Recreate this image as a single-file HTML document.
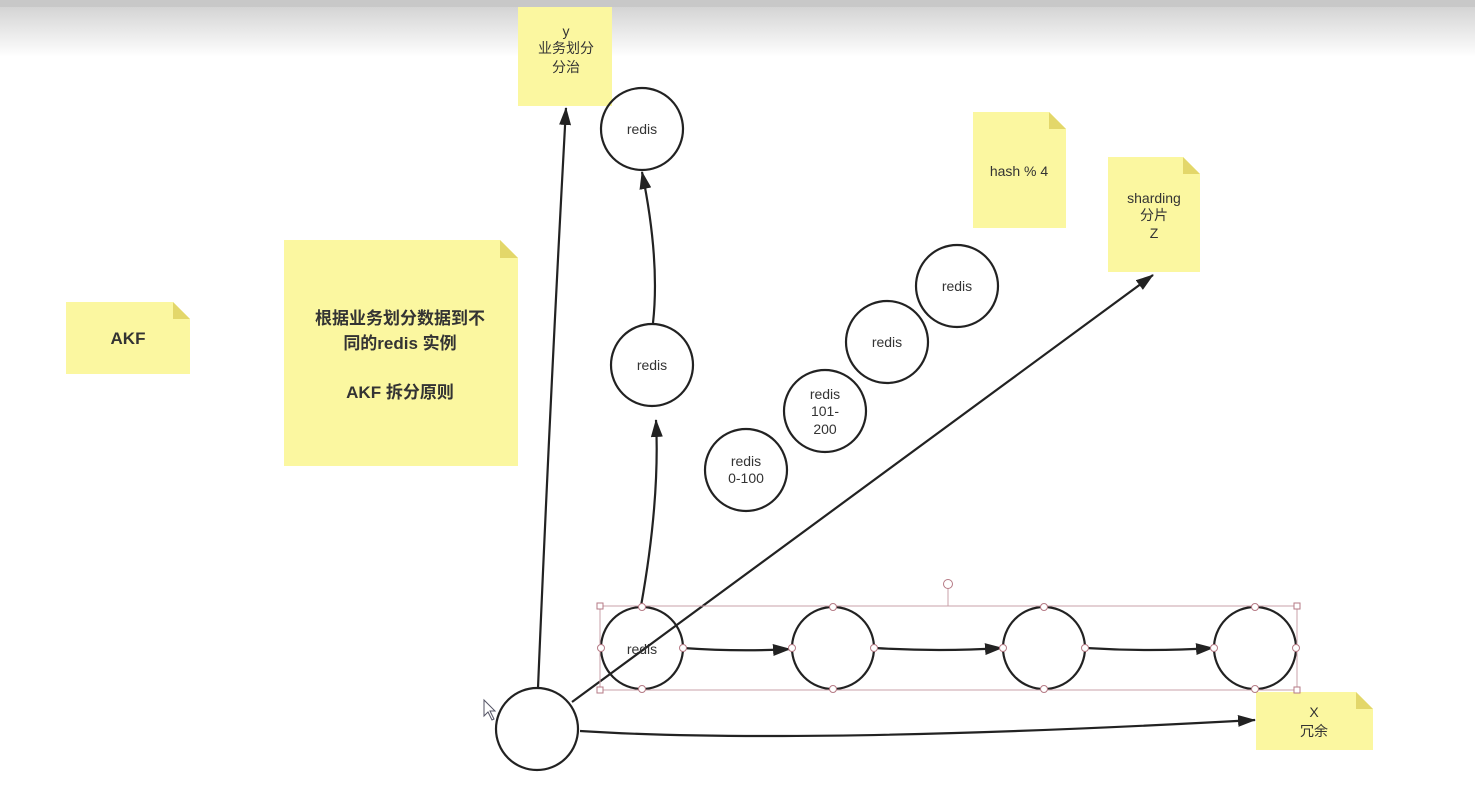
<!DOCTYPE html>
<html><head><meta charset="utf-8"><style>
html,body{margin:0;padding:0;width:1475px;height:793px;overflow:hidden;background:#fff}
svg{display:block}
text{font-family:"Liberation Sans","Noto Sans CJK SC",sans-serif;fill:#333}
</style></head><body>
<svg width="1475" height="793" viewBox="0 0 1475 793" xmlns="http://www.w3.org/2000/svg">
<defs>
<linearGradient id="tg" x1="0" y1="0" x2="0" y2="1"><stop offset="0" stop-color="#d4d4d4"/><stop offset="1" stop-color="#fff"/></linearGradient>
<marker id="ah" markerWidth="18" markerHeight="12" refX="17" refY="6" orient="auto" markerUnits="userSpaceOnUse"><path d="M0,0 L18,6 L0,12 z" fill="#222"/></marker>
</defs>
<rect x="0" y="0" width="1475" height="7" fill="#c8c8c8"/>
<rect x="0" y="7" width="1475" height="50" fill="url(#tg)"/>
<g fill="#fbf7a0">
<rect x="518" y="7" width="94" height="99"/>
<path d="M973,112 H1049 L1066,129 V228 H973 z"/>
<path d="M1108,157 H1183 L1200,174 V272 H1108 z"/>
<path d="M66,302 H173 L190,319 V374 H66 z"/>
<path d="M284,240 H500 L518,258 V466 H284 z"/>
<path d="M1256,692 H1356 L1373,709 V750 H1256 z"/>
</g>
<g fill="#e3d76a">
<path d="M1049,112 L1066,129 H1049 z"/><path d="M1183,157 L1200,174 H1183 z"/><path d="M173,302 L190,319 H173 z"/><path d="M500,240 L518,258 H500 z"/><path d="M1356,692 L1373,709 H1356 z"/>
</g>
<g font-size="14" text-anchor="middle">
<text x="566" y="36">y</text><text x="566" y="53">业务划分</text><text x="566" y="72">分治</text>
<text x="1019" y="176">hash % 4</text>
<text x="1154" y="203">sharding</text><text x="1154" y="220">分片</text><text x="1154" y="238">Z</text>
<text x="1314" y="717">X</text><text x="1314" y="736">冗余</text>
</g>
<g font-size="17" font-weight="bold" text-anchor="middle">
<text x="400" y="324">根据业务划分数据到不</text>
<text x="400" y="349">同的redis 实例</text>
<text x="400" y="398">AKF 拆分原则</text>
<text x="128" y="344">AKF</text>
</g>
<g fill="none" stroke="#222" stroke-width="2.2">
<path d="M538,688 Q550,400 566,108" marker-end="url(#ah)"/>
<path d="M641,606 Q660,500 656,420" marker-end="url(#ah)"/>
<path d="M653,323 Q660,260 642,172" marker-end="url(#ah)"/>
<path d="M572,702 L1153,275" marker-end="url(#ah)"/>
<path d="M580,731 Q800,745 1255,720" marker-end="url(#ah)"/>
<path d="M683,648 Q740,652 790,649" marker-end="url(#ah)"/>
<path d="M875,648 Q940,652 1002,648" marker-end="url(#ah)"/>
<path d="M1086,648 Q1150,652 1213,648" marker-end="url(#ah)"/>
</g>
<g fill="none" stroke="#222" stroke-width="2.2">
<circle cx="642" cy="129" r="41"/><circle cx="652" cy="365" r="41"/>
<circle cx="746" cy="470" r="41"/><circle cx="825" cy="411" r="41"/>
<circle cx="887" cy="342" r="41"/><circle cx="957" cy="286" r="41"/>
<circle cx="642" cy="648" r="41"/><circle cx="833" cy="648" r="41"/>
<circle cx="1044" cy="648" r="41"/><circle cx="1255" cy="648" r="41"/>
<circle cx="537" cy="729" r="41"/>
</g>
<g font-size="14" text-anchor="middle">
<text x="642" y="134">redis</text><text x="652" y="370">redis</text>
<text x="746" y="466">redis</text><text x="746" y="483">0-100</text>
<text x="825" y="399">redis</text><text x="825" y="416">101-</text><text x="825" y="434">200</text>
<text x="887" y="347">redis</text><text x="957" y="291">redis</text>
<text x="642" y="654">redis</text>
</g>
<g fill="none" stroke="#c9a0a8" stroke-width="1">
<rect x="600" y="606" width="697" height="84"/>
<line x1="948" y1="589" x2="948" y2="606"/>
</g>
<g fill="#fff" stroke="#b57a85" stroke-width="1">
<circle cx="948" cy="584" r="4.5"/>
<rect x="597" y="603" width="6" height="6"/><rect x="1294" y="603" width="6" height="6"/>
<rect x="597" y="687" width="6" height="6"/><rect x="1294" y="687" width="6" height="6"/>
<circle cx="642" cy="607" r="3.5"/><circle cx="642" cy="689" r="3.5"/><circle cx="601" cy="648" r="3.5"/><circle cx="683" cy="648" r="3.5"/>
<circle cx="833" cy="607" r="3.5"/><circle cx="833" cy="689" r="3.5"/><circle cx="792" cy="648" r="3.5"/><circle cx="874" cy="648" r="3.5"/>
<circle cx="1044" cy="607" r="3.5"/><circle cx="1044" cy="689" r="3.5"/><circle cx="1003" cy="648" r="3.5"/><circle cx="1085" cy="648" r="3.5"/>
<circle cx="1255" cy="607" r="3.5"/><circle cx="1255" cy="689" r="3.5"/><circle cx="1214" cy="648" r="3.5"/><circle cx="1296" cy="648" r="3.5"/>
</g>
<path d="M484,700 L484,716 L488,712 L492,720 L494,719 L490,711 L495,711 z" fill="#fff" stroke="#556" stroke-width="1"/>
</svg>
</body></html>
